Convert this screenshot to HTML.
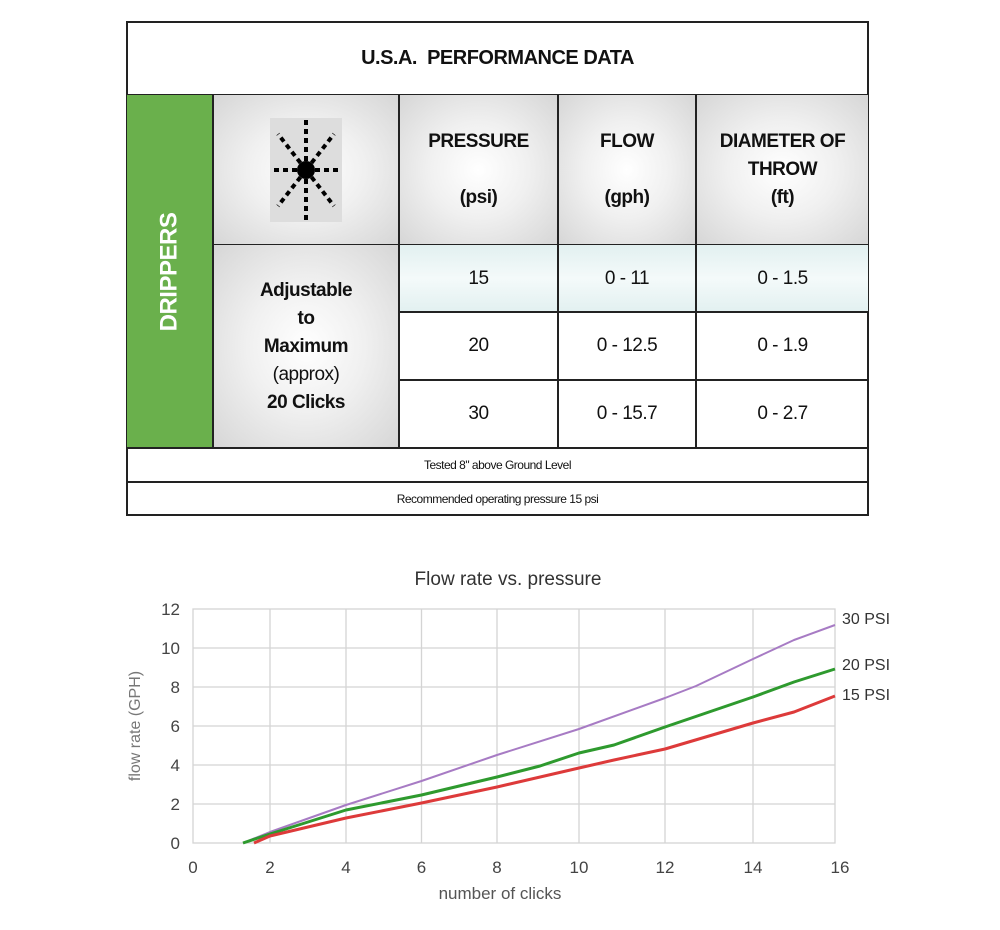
<!DOCTYPE html>
<html><head><style>
body{margin:0;width:1000px;height:930px;background:#fff;font-family:"Liberation Sans",sans-serif;position:relative;overflow:hidden}
.c{position:absolute;box-sizing:border-box;display:flex;align-items:center;justify-content:center;text-align:center;font-weight:bold;color:#111;font-size:19px;letter-spacing:-0.5px}
.g{background:radial-gradient(ellipse at center,#fff 0%,#f0f0f0 45%,#d6d6d6 100%)}
</style></head><body>
<div style="position:absolute;left:126px;top:21px;width:743px;height:495px;border:2px solid #222;box-sizing:border-box"></div>
<div class="c" style="left:127px;top:22px;width:741px;height:73px;font-size:20px">U.S.A.&nbsp; PERFORMANCE DATA</div>
<div style="position:absolute;left:127px;top:94px;width:741px;height:2px;background:#222"></div>
<div class="c" style="left:127px;top:95px;width:85px;height:353px;background:#6ab04c;color:#fff"><span style="transform:rotate(-90deg);font-size:24px;display:block;white-space:nowrap">DRIPPERS</span></div>
<div class="c g" style="left:212px;top:95px;width:188px;height:150px;border-left:2px solid #222;border-right:2px solid #222">
<svg width="72" height="104" viewBox="0 0 72 104" style="background:#ddd"><g stroke="#000" stroke-width="4" stroke-dasharray="5,4"><line x1="36" y1="52" x2="36" y2="2"/><line x1="36" y1="52" x2="36" y2="102"/><line x1="36" y1="52" x2="2" y2="52"/><line x1="36" y1="52" x2="70" y2="52"/><line x1="36" y1="52" x2="8" y2="16"/><line x1="36" y1="52" x2="64" y2="16"/><line x1="36" y1="52" x2="8" y2="88"/><line x1="36" y1="52" x2="64" y2="88"/></g><circle cx="36" cy="52" r="9"/></svg></div>
<div class="c g" style="left:400px;top:95px;width:157px;height:150px;line-height:28px"><div>PRESSURE<br><br>(psi)</div></div>
<div class="c g" style="left:557px;top:95px;width:140px;height:150px;border-left:2px solid #222;border-right:2px solid #222;line-height:28px"><div>FLOW<br><br>(gph)</div></div>
<div class="c g" style="left:697px;top:95px;width:171px;height:150px;line-height:28px"><div>DIAMETER OF<br>THROW<br>(ft)</div></div>
<div style="position:absolute;left:212px;top:244px;width:656px;height:2px;background:#222"></div>
<div class="c g" style="left:212px;top:245px;width:188px;height:203px;border-left:2px solid #222;border-right:2px solid #222;line-height:28px"><div>Adjustable<br>to<br>Maximum<br><span style="font-weight:normal">(approx)</span><br>20 Clicks</div></div>
<div class="c" style="left:400px;top:245px;width:157px;height:67px;background:linear-gradient(#e2f0f0,#f4fafa 50%,#e2f0f0);font-weight:normal">15</div>
<div class="c" style="left:557px;top:245px;width:140px;height:67px;background:linear-gradient(#e2f0f0,#f4fafa 50%,#e2f0f0);font-weight:normal;border-left:2px solid #222;border-right:2px solid #222">0 - 11</div>
<div class="c" style="left:697px;top:245px;width:171px;height:67px;background:linear-gradient(#e2f0f0,#f4fafa 50%,#e2f0f0);font-weight:normal">0 - 1.5</div>
<div style="position:absolute;left:400px;top:311px;width:468px;height:2px;background:#222"></div>
<div class="c" style="left:400px;top:312px;width:157px;height:68px;font-weight:normal">20</div>
<div class="c" style="left:557px;top:312px;width:140px;height:136px;border-left:2px solid #222;border-right:2px solid #222"></div>
<div class="c" style="left:557px;top:312px;width:140px;height:68px;font-weight:normal">0 - 12.5</div>
<div class="c" style="left:697px;top:312px;width:171px;height:68px;font-weight:normal">0 - 1.9</div>
<div style="position:absolute;left:400px;top:379px;width:468px;height:2px;background:#222"></div>
<div class="c" style="left:400px;top:380px;width:157px;height:68px;font-weight:normal">30</div>
<div class="c" style="left:557px;top:380px;width:140px;height:68px;font-weight:normal">0 - 15.7</div>
<div class="c" style="left:697px;top:380px;width:171px;height:68px;font-weight:normal">0 - 2.7</div>
<div style="position:absolute;left:127px;top:447px;width:741px;height:2px;background:#222"></div>
<div class="c" style="left:127px;top:448px;width:741px;height:33px;font-weight:normal;font-size:12px">Tested 8" above Ground Level</div>
<div style="position:absolute;left:127px;top:481px;width:741px;height:2px;background:#222"></div>
<div class="c" style="left:127px;top:482px;width:741px;height:33px;font-weight:normal;font-size:12px">Recommended operating pressure 15 psi</div>

<svg style="position:absolute;left:0;top:0" width="1000" height="930" font-family="Liberation Sans, sans-serif">
<text x="508" y="585" text-anchor="middle" font-size="19" fill="#333">Flow rate vs. pressure</text>
<g stroke="#d4d4d4" stroke-width="1.3">
<line x1="270" y1="609" x2="270" y2="843"/><line x1="346" y1="609" x2="346" y2="843"/><line x1="421.5" y1="609" x2="421.5" y2="843"/><line x1="497" y1="609" x2="497" y2="843"/><line x1="579" y1="609" x2="579" y2="843"/><line x1="665" y1="609" x2="665" y2="843"/><line x1="753" y1="609" x2="753" y2="843"/>
<line x1="193" y1="648" x2="835" y2="648"/><line x1="193" y1="687" x2="835" y2="687"/><line x1="193" y1="726" x2="835" y2="726"/><line x1="193" y1="765" x2="835" y2="765"/><line x1="193" y1="804" x2="835" y2="804"/>
<rect x="193" y="609" width="642" height="234" fill="none"/>
</g>
<g font-size="17" fill="#444" text-anchor="middle">
<text x="193" y="873">0</text><text x="270" y="873">2</text><text x="346" y="873">4</text><text x="421.5" y="873">6</text><text x="497" y="873">8</text><text x="579" y="873">10</text><text x="665" y="873">12</text><text x="753" y="873">14</text><text x="840" y="873">16</text>
</g>
<g font-size="17" fill="#444" text-anchor="end">
<text x="180" y="849">0</text><text x="180" y="810">2</text><text x="180" y="771">4</text><text x="180" y="732">6</text><text x="180" y="693">8</text><text x="180" y="654">10</text><text x="180" y="615">12</text>
</g>
<text x="500" y="899" text-anchor="middle" font-size="17" fill="#555">number of clicks</text>
<text transform="translate(140,726) rotate(-90)" text-anchor="middle" font-size="16" fill="#777">flow rate (GPH)</text>
<g font-size="16" fill="#333"><text x="842" y="624">30 PSI</text><text x="842" y="670">20 PSI</text><text x="842" y="700">15 PSI</text></g>
<g fill="none" stroke-linejoin="round">
<polyline stroke="#a77bc4" stroke-width="2" points="243,843 270,832 346,805 421.5,781 497,755 579,729 665,698 696,686 753,659 794,640 835,625"/>
<polyline stroke="#2e9a2e" stroke-width="3" points="243,843 270,834 346,810 421.5,795 497,777 540,766 579,753 614,745 665,727 753,697 794,682 835,669"/>
<polyline stroke="#dd3a3a" stroke-width="3" points="254,843 270,836 346,818 421.5,803 497,787 579,768 614,760 665,749 753,723 794,712 835,696"/>
</g>
</svg>
</body></html>
